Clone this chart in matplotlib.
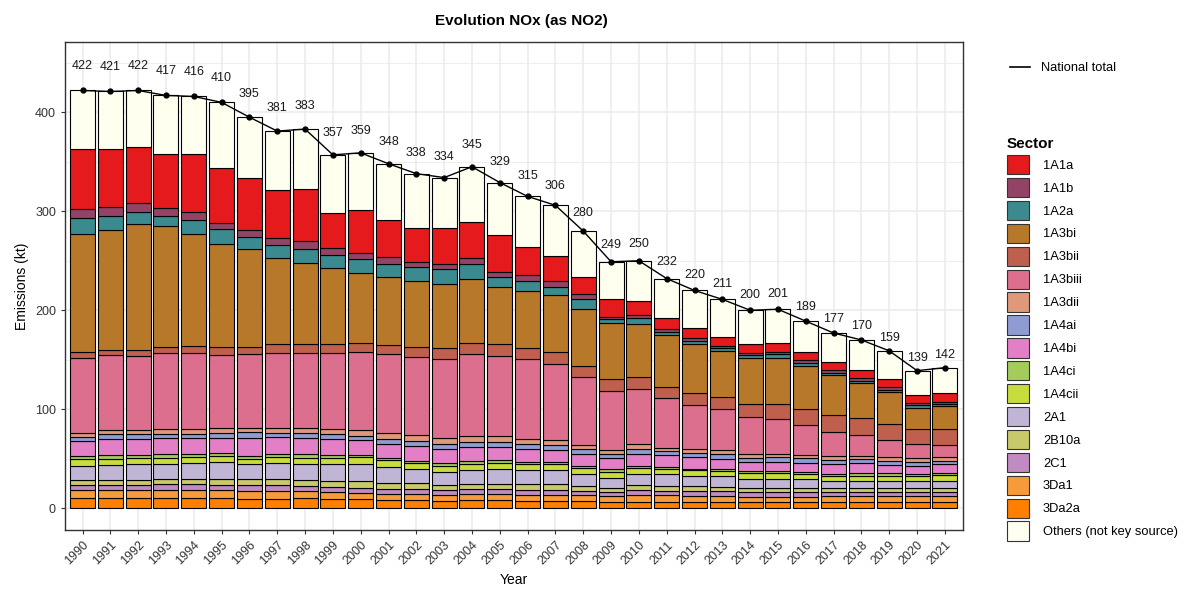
import numpy as np
import matplotlib
matplotlib.use('Agg')
import matplotlib.pyplot as plt
from matplotlib.patches import Patch
from matplotlib.lines import Line2D

plt.rcParams['font.family'] = ['Liberation Sans', 'DejaVu Sans']

years = np.arange(1990, 2022)

# national total (kt), as labelled on the chart
total = [422, 421, 422, 417, 416, 410, 395, 381, 383, 357, 359, 348, 338, 334, 345, 329,
         315, 306, 280, 249, 250, 232, 220, 211, 200, 201, 189, 177, 170, 159, 139, 142]

# key sectors, bottom of the stack first
s_3Da2a = [10.1, 10.1, 10.1, 10.1, 10.1, 10.1, 9.8, 9.8, 10.1, 9.8, 9.1, 8.1, 8.1, 7.4, 8.1, 8.1,
           7.4, 7.4, 7.4, 6.7, 6.7, 6.7, 6.7, 6.7, 6.4, 6.4, 6.4, 6.4, 6.4, 6.4, 6.4, 6.4]
s_3Da1 = [8.1, 8.1, 8.1, 8.1, 8.1, 8.1, 7.7, 7.7, 7.4, 7.0, 6.1, 6.0, 6.0, 6.1, 6.0, 6.0,
          6.1, 6.1, 5.7, 5.8, 6.4, 6.4, 5.8, 5.8, 5.4, 5.4, 5.4, 5.8, 5.8, 5.8, 5.8, 5.8]
s_2C1 = [5.4, 5.4, 5.0, 6.0, 6.0, 5.4, 5.7, 6.1, 5.1, 5.1, 5.7, 5.1, 5.1, 4.7, 5.1, 5.1,
         4.7, 4.7, 4.4, 4.0, 5.1, 4.4, 5.0, 5.0, 4.7, 4.7, 4.7, 4.4, 4.4, 4.4, 4.4, 4.4]
s_2B10a = [5.0, 5.4, 5.4, 5.1, 5.8, 6.4, 6.1, 5.7, 5.7, 5.7, 6.7, 6.7, 6.7, 5.0, 5.0, 5.7,
           6.0, 6.7, 5.1, 4.4, 5.4, 5.1, 5.1, 4.0, 4.4, 4.4, 4.4, 4.2, 4.2, 4.2, 4.2, 4.2]
s_2A1 = [14.2, 15.1, 15.8, 15.8, 16.1, 16.8, 15.1, 16.8, 16.1, 16.8, 17.5, 15.9, 13.5, 13.5, 14.5, 14.5,
         14.2, 13.8, 11.7, 10.1, 10.7, 11.7, 10.1, 11.2, 9.1, 9.1, 9.1, 7.0, 7.0, 6.8, 6.8, 7.0]
s_1A4cii = [6.7, 6.1, 6.8, 6.1, 6.1, 6.1, 5.8, 6.1, 6.8, 6.8, 6.8, 6.7, 6.1, 6.1, 6.4, 6.7,
            6.0, 6.4, 6.8, 6.0, 6.1, 5.8, 5.7, 5.0, 5.4, 5.4, 5.0, 4.4, 5.0, 5.4, 5.0, 5.8]
s_1A4ci = [3.4, 3.7, 2.7, 3.3, 3.0, 3.0, 2.7, 3.0, 4.0, 2.7, 2.0, 2.0, 2.3, 3.3, 2.7, 2.4,
           2.7, 1.7, 1.7, 2.4, 2.4, 2.0, 1.7, 1.7, 2.3, 2.3, 2.0, 2.7, 2.7, 2.3, 2.1, 2.3]
s_1A4bi = [15.1, 15.8, 16.5, 16.2, 15.5, 15.5, 18.5, 16.8, 16.2, 15.8, 14.8, 14.8, 15.2, 14.2, 14.2, 13.8,
           12.5, 12.1, 12.4, 11.8, 12.4, 11.4, 11.8, 10.8, 9.1, 9.4, 9.1, 9.7, 10.1, 8.5, 8.4, 8.4]
s_1A4ai = [4.1, 5.0, 4.3, 4.7, 4.7, 5.0, 5.7, 4.4, 5.0, 5.0, 4.4, 4.4, 5.0, 5.0, 5.3, 5.0,
           5.0, 5.1, 4.4, 4.0, 4.4, 4.4, 4.3, 5.0, 4.4, 4.8, 4.4, 3.7, 4.1, 4.3, 4.0, 3.7]
s_1A3dii = [3.7, 4.1, 4.1, 4.4, 4.4, 4.4, 4.4, 5.1, 5.1, 5.1, 5.7, 6.1, 5.7, 5.4, 5.8, 5.8,
            5.1, 4.7, 4.0, 3.4, 5.0, 3.4, 3.4, 3.4, 3.3, 3.3, 3.4, 4.1, 3.4, 3.4, 3.4, 4.1]
s_1A3biii = [76.4, 75.7, 75.1, 76.8, 77.4, 73.7, 74.7, 75.7, 75.7, 77.4, 79.1, 79.8, 79.5, 79.8, 83.1, 80.8,
             80.8, 77.4, 69.1, 59.9, 55.6, 50.5, 44.8, 42.1, 38.1, 34.7, 29.9, 24.6, 21.2, 17.5, 14.5, 11.8]
s_1A3bii = [5.7, 5.8, 6.4, 6.7, 6.8, 8.8, 7.1, 8.5, 8.5, 8.5, 8.8, 9.4, 10.1, 11.8, 11.1, 11.8,
            11.8, 12.1, 11.1, 11.8, 12.5, 11.1, 11.8, 11.8, 13.1, 15.8, 16.2, 16.8, 16.8, 15.8, 14.8, 15.8]
s_1A3bi = [118.9, 120.5, 127.2, 121.9, 112.8, 104.0, 98.3, 86.8, 82.4, 76.7, 70.7, 68.7, 66.3, 64.0, 64.0, 57.9,
           57.2, 57.0, 57.9, 57.2, 53.8, 51.8, 49.5, 46.4, 45.8, 46.5, 43.8, 40.4, 35.4, 32.4, 21.2, 23.6]
s_1A2a = [16.8, 14.5, 11.8, 10.1, 14.1, 14.5, 12.4, 13.2, 14.2, 13.5, 14.1, 13.4, 14.2, 15.1, 15.2, 10.1,
          10.1, 8.7, 9.4, 3.4, 5.5, 3.8, 3.3, 2.7, 3.4, 3.4, 3.3, 2.4, 2.5, 2.5, 3.0, 2.1]
s_1A1b = [9.1, 9.1, 8.7, 8.4, 8.8, 6.1, 7.1, 7.7, 7.7, 7.4, 6.7, 7.1, 5.4, 5.7, 6.7, 5.4,
          5.8, 5.7, 5.1, 2.7, 3.0, 2.3, 2.7, 2.4, 2.3, 2.6, 2.4, 2.6, 2.5, 2.5, 2.7, 2.2]
s_1A1a = [59.9, 58.9, 57.3, 54.5, 57.9, 55.5, 52.9, 47.8, 52.2, 35.4, 42.8, 37.0, 34.3, 36.4, 36.4, 36.7,
          28.6, 25.3, 17.5, 17.5, 14.4, 11.8, 10.1, 9.4, 8.5, 9.1, 8.4, 8.5, 8.4, 8.1, 7.8, 8.5]

sectors = ['1A1a', '1A1b', '1A2a', '1A3bi', '1A3bii', '1A3biii', '1A3dii', '1A4ai', '1A4bi',
           '1A4ci', '1A4cii', '2A1', '2B10a', '2C1', '3Da1', '3Da2a']
values = [s_1A1a, s_1A1b, s_1A2a, s_1A3bi, s_1A3bii, s_1A3biii, s_1A3dii, s_1A4ai, s_1A4bi,
          s_1A4ci, s_1A4cii, s_2A1, s_2B10a, s_2C1, s_3Da1, s_3Da2a]
colors = ['#e41a1c', '#934466', '#3b8a8f', '#b8782a', '#bf5f4e', '#db6f8d', '#e0987a', '#8f9bd3',
          '#e27fc6', '#a5cc5b', '#c8dc3e', '#c1b5d6', '#c8c96b', '#c08ac3', '#f79b3a', '#ff7f00']
others_color = '#fffff0'

fig = plt.figure(figsize=(11.84, 5.93), dpi=100)
ax = fig.add_axes([0.0549, 0.1062, 0.7584, 0.8230])

bottom = np.zeros(len(years))
for name, vals, c in zip(sectors[::-1], values[::-1], colors[::-1]):
    ax.bar(years, vals, 0.9, bottom=bottom, color=c, edgecolor='black', linewidth=0.8, zorder=2)
    bottom += np.array(vals)
others = np.array(total) - bottom
ax.bar(years, others, 0.9, bottom=bottom, color=others_color, edgecolor='black', linewidth=0.8, zorder=2)

ax.plot(years, total, color='black', linewidth=1, marker='o', markersize=3.5, zorder=3)
for y, t in zip(years, total):
    ax.text(y, t * 1.044 + 6.4, str(t), ha='center', va='center', fontsize=9, color='#1a1a1a')

ax.set_xlim(1989.37, 2021.65)
ax.set_ylim(-22, 471)
ax.set_yticks([0, 100, 200, 300, 400])
ax.set_yticks([50, 150, 250, 350, 450], minor=True)
ax.set_xticks(years)
ax.set_xticklabels([str(y) for y in years], rotation=45, ha='right', rotation_mode='anchor')
ax.tick_params(axis='both', which='major', labelsize=9, colors='#333333', length=3, width=0.8)
ax.tick_params(axis='y', which='minor', length=0)
ax.grid(True, which='major', color='#ebebeb', linewidth=1.1, zorder=0)
ax.grid(True, which='minor', axis='y', color='#ebebeb', linewidth=0.6, zorder=0)
ax.set_axisbelow(True)
for sp in ax.spines.values():
    sp.set_color('#333333')
    sp.set_linewidth(1)

ax.set_xlabel('Year', fontsize=10)
ax.set_ylabel('Emissions (kt)', fontsize=10)
ax.set_title('Evolution NOx (as NO2)', fontsize=11, fontweight='bold', pad=12, x=0.508)

line_handle = [Line2D([0], [0], color='black', linewidth=1.2)]
leg1 = fig.legend(line_handle, ['National total'], loc='upper left', bbox_to_anchor=(0.843, 0.915),
                  frameon=False, fontsize=9.3, handlelength=1.6)

handles = [Patch(facecolor=c, edgecolor='#333333', linewidth=0.8) for c in colors]
handles.append(Patch(facecolor=others_color, edgecolor='#333333', linewidth=0.8))
labels = sectors + ['Others (not key source)']
leg2 = fig.legend(handles, labels, loc='upper left', bbox_to_anchor=(0.846, 0.777), frameon=False,
                  title='Sector', title_fontproperties={'weight': 'bold', 'size': 11}, fontsize=9.3,
                  handlelength=1.75, handleheight=1.92, labelspacing=0.28, handletextpad=1.05,
                  alignment='left', borderaxespad=0)

fig.savefig('out.png', dpi=100)
